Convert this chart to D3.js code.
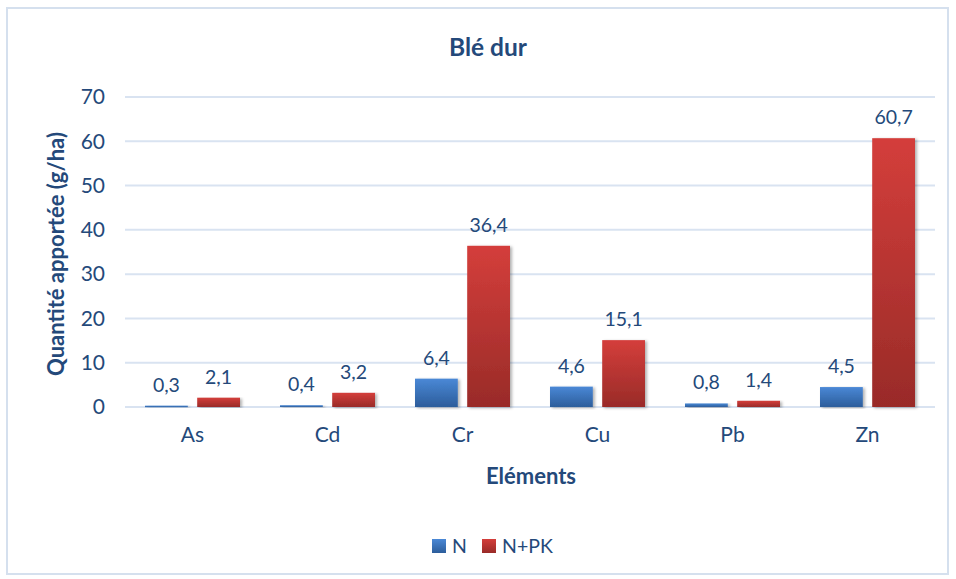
<!DOCTYPE html>
<html>
<head>
<meta charset="utf-8">
<script src="https://cdn.jsdelivr.net/npm/d3@7"></script>
<style>
  body { margin: 0; background: #fff; }
  text { font-family: Lato, "Open Sans", sans-serif; fill: #24497a; }
</style>
</head>
<body>
<script>
// Blé dur : quantités apportées par élément
const elements = ['As', 'Cd', 'Cr', 'Cu', 'Pb', 'Zn'];
const seriesNames = ['N', 'N+PK'];
const valN = [0.3, 0.4, 6.4, 4.6, 0.8, 4.5];
const valNPK = [2.1, 3.2, 36.4, 15.1, 1.4, 60.7];
const yTicks = [0, 10, 20, 30, 40, 50, 60, 70];

const width = 956, height = 579;
const svg = d3.select('body').append('svg')
  .attr('width', width)
  .attr('height', height);

const defs = svg.append('defs');
function grad(id, top, bottom) {
  const g = defs.append('linearGradient')
    .attr('id', id).attr('x1', 0).attr('y1', 0).attr('x2', 0).attr('y2', 1);
  g.append('stop').attr('offset', '0%').attr('stop-color', top);
  g.append('stop').attr('offset', '100%').attr('stop-color', bottom);
}
grad('gN', '#4a88d6', '#2c5d9b');
grad('gNPK', '#d43e3b', '#992b28');
const shadow = defs.append('filter').attr('id', 'shadow')
  .attr('x', '-20%').attr('y', '-5%').attr('width', '150%').attr('height', '115%');
shadow.append('feDropShadow')
  .attr('dx', 2).attr('dy', 1).attr('stdDeviation', 1.5)
  .attr('flood-color', '#000').attr('flood-opacity', 0.3);

// cadre du graphique
svg.append('rect')
  .attr('x', 7).attr('y', 8)
  .attr('width', 941).attr('height', 566)
  .attr('fill', 'none')
  .attr('stroke', '#d5e0ee')
  .attr('stroke-width', 2);

const margin = {left: 125, right: 21, top: 97, bottom: 172};
const x0 = d3.scaleBand()
  .domain(elements)
  .range([margin.left, width - margin.right]);
const x1 = d3.scaleBand()
  .domain(seriesNames)
  .range([20, x0.bandwidth() - 20])
  .paddingInner(0.18);
const y = d3.scaleLinear()
  .domain([0, 70])
  .range([height - margin.bottom, margin.top]);

// grille
svg.append('g')
  .selectAll('line')
  .data(yTicks)
  .enter().append('line')
  .attr('x1', margin.left)
  .attr('x2', width - margin.right)
  .attr('y1', d => y(d))
  .attr('y2', d => y(d))
  .attr('stroke', '#d9e3f1')
  .attr('stroke-width', 2);

// axe y
const yAxis = svg.append('g')
  .attr('transform', 'translate(' + (margin.left - 20) + ',0)')
  .call(d3.axisLeft(y).tickValues(yTicks).tickSize(0).tickPadding(0));
yAxis.select('.domain').remove();
yAxis.selectAll('text')
  .style('font-size', '21px')
  .style('font-family', 'Lato, "Open Sans", sans-serif')
  .attr('fill', '#24497a');

// axe x
const xAxis = svg.append('g')
  .attr('transform', 'translate(0,' + y(0) + ')')
  .call(d3.axisBottom(x0).tickSize(0).tickPadding(20));
xAxis.select('.domain').remove();
xAxis.selectAll('text')
  .style('font-size', '21px')
  .style('font-family', 'Lato, "Open Sans", sans-serif')
  .attr('fill', '#24497a');

const rows = elements.map((e, i) => ({el: e, vals: [
  {s: 'N', v: valN[i]}, {s: 'N+PK', v: valNPK[i]}]}));

const groups = svg.append('g')
  .selectAll('g')
  .data(rows)
  .enter().append('g')
  .attr('transform', d => 'translate(' + x0(d.el) + ',0)');

groups.selectAll('rect')
  .data(d => d.vals)
  .enter().append('rect')
  .attr('x', d => x1(d.s))
  .attr('width', x1.bandwidth())
  .attr('y', d => y(d.v))
  .attr('height', d => Math.max(1.5, y(0) - y(d.v)))
  .attr('fill', d => d.s === 'N' ? 'url(#gN)' : 'url(#gNPK)')
  .attr('filter', 'url(#shadow)');

groups.selectAll('text')
  .data(d => d.vals)
  .enter().append('text')
  .attr('x', d => x1(d.s) + x1.bandwidth() / 2)
  .attr('y', d => y(d.v) - 14)
  .attr('text-anchor', 'middle')
  .style('font-size', '19.5px')
  .text(d => String(d.v.toFixed(1)).replace('.', ','));

// titres
svg.append('text')
  .attr('x', 488).attr('y', 56)
  .attr('text-anchor', 'middle')
  .style('font-size', '24.5px').style('font-weight', 'bold')
  .text('Blé dur');

svg.append('text')
  .attr('x', 531).attr('y', 484)
  .attr('text-anchor', 'middle')
  .style('font-size', '22px').style('font-weight', 'bold')
  .text('Eléments');

svg.append('text')
  .attr('transform', 'translate(64,' + (y(35) + 2) + ') rotate(-90)')
  .attr('text-anchor', 'middle')
  .style('font-size', '22px').style('font-weight', 'bold')
  .text('Quantité apportée (g/ha)');

// légende
const legend = svg.append('g')
  .attr('transform', 'translate(432,539)');
const legItems = legend.selectAll('g')
  .data(seriesNames)
  .enter().append('g')
  .attr('transform', (d, i) => 'translate(' + (i * 50) + ',0)');
legItems.append('rect')
  .attr('width', 14).attr('height', 14)
  .attr('fill', d => d === 'N' ? 'url(#gN)' : 'url(#gNPK)');
legItems.append('text')
  .attr('x', 20).attr('y', 14)
  .style('font-size', '19.5px')
  .text(d => d);
</script>
</body>
</html>
